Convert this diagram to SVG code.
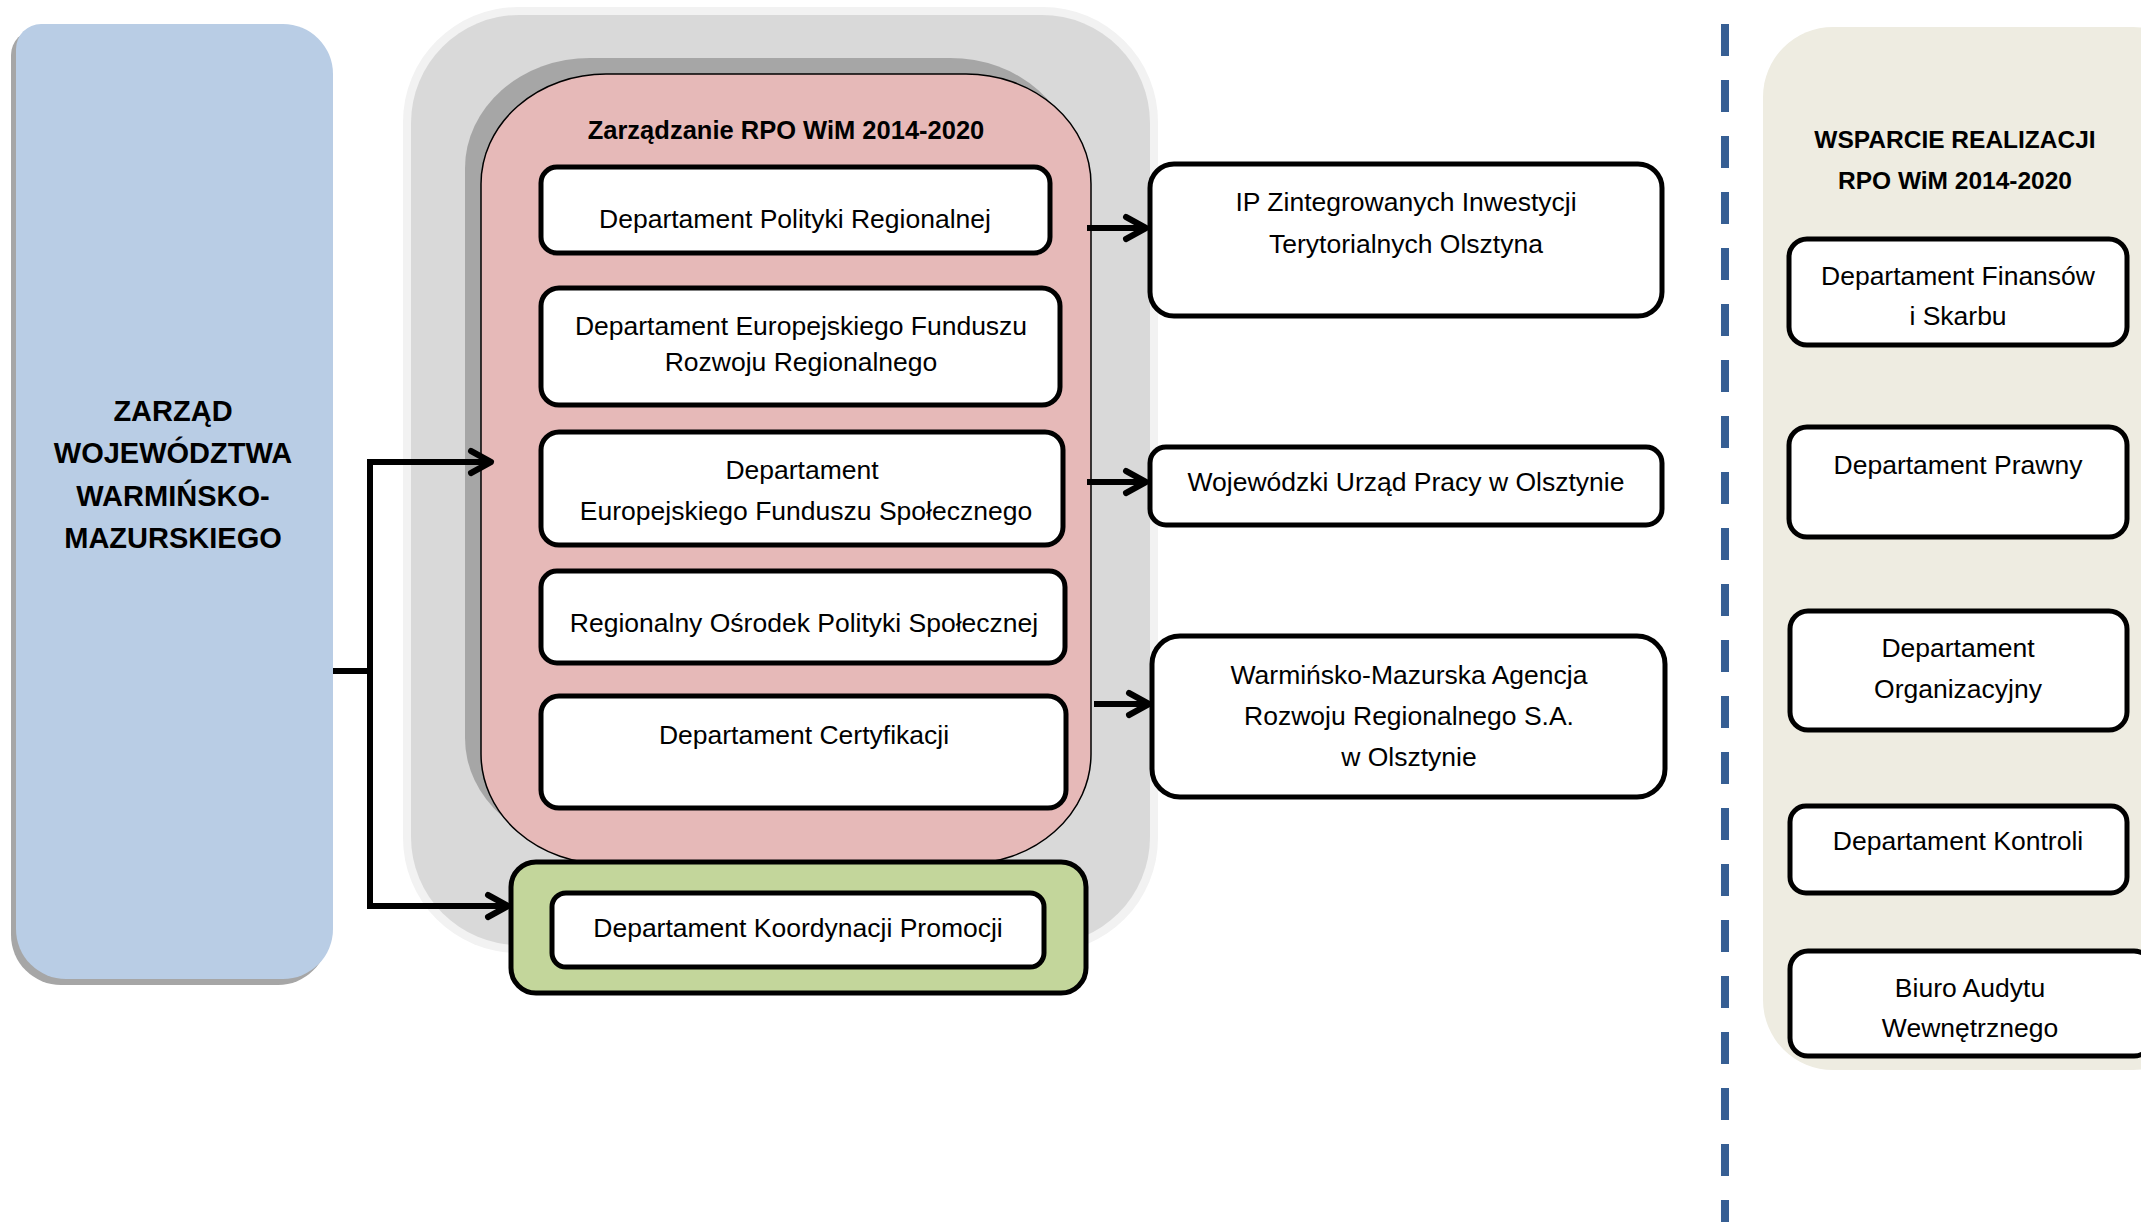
<svg xmlns="http://www.w3.org/2000/svg" width="2141" height="1222" viewBox="0 0 2141 1222">
<defs>
<style>
text{font-family:"Liberation Sans",Arial,sans-serif;fill:#000;text-anchor:middle}
.t{font-size:26.5px}
.b{font-weight:bold}
.box{fill:#fff;stroke:#000;stroke-width:5}
.conn{fill:none;stroke:#000;stroke-width:6;stroke-linecap:butt}
</style>
<marker id="arr" markerUnits="userSpaceOnUse" viewBox="-4 -4 32 32" markerWidth="32" markerHeight="32" refX="22" refY="12" orient="auto">
<path d="M2,1 L22,12 L2,23" fill="none" stroke="#000" stroke-width="6" stroke-linecap="round" stroke-linejoin="round"/>
</marker>
</defs>
<rect width="2141" height="1222" fill="#fff"/>

<g id="zarzad">
<path d="M36,30 H278 A50,50 0 0 1 328,80 V935 A50,50 0 0 1 278,985 H61 A50,50 0 0 1 11,935 V55 A25,25 0 0 1 36,30 Z" fill="#a6a6a6"/>
<path d="M41,24 H283 A50,50 0 0 1 333,74 V929 A50,50 0 0 1 283,979 H66 A50,50 0 0 1 16,929 V49 A25,25 0 0 1 41,24 Z" fill="#b9cde5"/>
<text class="b" font-size="29" x="173" y="421">ZARZĄD</text>
<text class="b" font-size="29" x="173" y="463">WOJEWÓDZTWA</text>
<text class="b" font-size="29" x="173" y="506">WARMIŃSKO-</text>
<text class="b" font-size="29" x="173" y="548">MAZURSKIEGO</text>
</g>

<g id="rpo-container">
<rect x="403" y="7" width="755" height="946" rx="115" ry="115" fill="#f2f2f2"/>
<rect x="411" y="15" width="739" height="930" rx="108" ry="108" fill="#d9d9d9"/>
</g>

<g id="zarzadzanie">
<rect x="465" y="58" width="610" height="790" rx="125" ry="110" fill="#a6a6a6"/>
<rect x="481" y="74" width="610" height="790" rx="125" ry="110" fill="#e6b9b8" stroke="#000" stroke-width="1.5"/>
<text class="b" font-size="25.5" x="786" y="139">Zarządzanie RPO WiM 2014-2020</text>
</g>

<g id="dpr">
<rect class="box" x="541" y="167" width="509" height="86" rx="16"/>
<text class="t" x="795" y="228">Departament Polityki Regionalnej</text>
</g>
<g id="defrr">
<rect class="box" x="541" y="288" width="519" height="117" rx="18"/>
<text class="t" x="801" y="335">Departament Europejskiego Funduszu</text>
<text class="t" x="801" y="371">Rozwoju Regionalnego</text>
</g>
<g id="defs">
<rect class="box" x="541" y="432" width="522" height="113" rx="18"/>
<text class="t" x="802" y="479">Departament</text>
<text class="t" x="806" y="520">Europejskiego Funduszu Społecznego</text>
</g>
<g id="rops">
<rect class="box" x="541" y="571" width="524" height="92" rx="16"/>
<text class="t" x="804" y="632">Regionalny Ośrodek Polityki Społecznej</text>
</g>
<g id="dc">
<rect class="box" x="541" y="696" width="525" height="112" rx="18"/>
<text class="t" x="804" y="744">Departament Certyfikacji</text>
</g>

<g id="promocja">
<rect x="511" y="862" width="575" height="131" rx="25" fill="#c3d69b" stroke="#000" stroke-width="5"/>
<rect class="box" x="552" y="893" width="492" height="74" rx="14"/>
<text class="t" x="798" y="937">Departament Koordynacji Promocji</text>
</g>

<g id="ip">
<rect class="box" x="1150" y="164" width="512" height="152" rx="24"/>
<text class="t" x="1406" y="211">IP Zintegrowanych Inwestycji</text>
<text class="t" x="1406" y="253">Terytorialnych Olsztyna</text>
</g>
<g id="wup">
<rect class="box" x="1150" y="447" width="512" height="78" rx="16"/>
<text class="t" x="1406" y="491">Wojewódzki Urząd Pracy w Olsztynie</text>
</g>
<g id="wmarr">
<rect class="box" x="1152" y="636" width="513" height="161" rx="28"/>
<text class="t" x="1409" y="684">Warmińsko-Mazurska Agencja</text>
<text class="t" x="1409" y="725">Rozwoju Regionalnego S.A.</text>
<text class="t" x="1409" y="766">w Olsztynie</text>
</g>

<line x1="1725" y1="24" x2="1725" y2="1222" stroke="#375f94" stroke-width="8" stroke-dasharray="32 24"/>

<g id="wsparcie">
<rect x="1763" y="27" width="440" height="1043" rx="70" ry="70" fill="#eeece1"/>
<text class="b" font-size="24.5" x="1955" y="148">WSPARCIE REALIZACJI</text>
<text class="b" font-size="24.5" x="1955" y="189">RPO WiM 2014-2020</text>
</g>
<g id="dfs">
<rect class="box" x="1789" y="239" width="338" height="106" rx="18"/>
<text class="t" x="1958" y="285">Departament Finansów</text>
<text class="t" x="1958" y="325">i Skarbu</text>
</g>
<g id="dp">
<rect class="box" x="1789" y="427" width="338" height="110" rx="18"/>
<text class="t" x="1958" y="474">Departament Prawny</text>
</g>
<g id="do">
<rect class="box" x="1790" y="611" width="337" height="119" rx="18"/>
<text class="t" x="1958" y="657">Departament</text>
<text class="t" x="1958" y="698">Organizacyjny</text>
</g>
<g id="dk">
<rect class="box" x="1790" y="806" width="337" height="87" rx="16"/>
<text class="t" x="1958" y="850">Departament Kontroli</text>
</g>
<g id="bauw">
<rect class="box" x="1790" y="951" width="362" height="105" rx="18"/>
<text class="t" x="1970" y="997">Biuro Audytu</text>
<text class="t" x="1970" y="1037">Wewnętrznego</text>
</g>

<g id="connectors">
<path class="conn" d="M333,671 H370"/>
<path class="conn" d="M370,459 V909"/>
<path class="conn" d="M367,462 H491" marker-end="url(#arr)"/>
<path class="conn" d="M367,906 H508" marker-end="url(#arr)"/>
<path class="conn" d="M1087,228 H1146" marker-end="url(#arr)"/>
<path class="conn" d="M1087,482 H1146" marker-end="url(#arr)"/>
<path class="conn" d="M1094,704 H1149" marker-end="url(#arr)"/>
</g>
</svg>
